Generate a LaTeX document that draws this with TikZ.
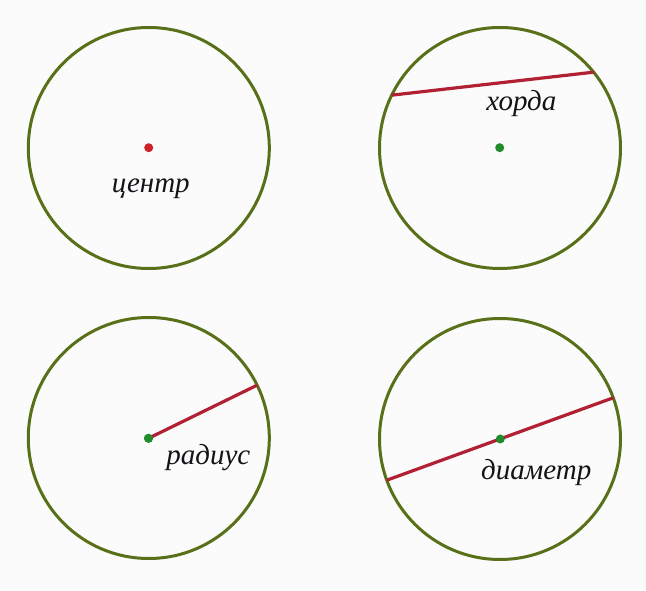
\documentclass[tikz,border=0pt]{standalone}
\usepackage{fontspec}
\setmainfont{Liberation Serif}
\definecolor{ring}{RGB}{88,112,24}
\definecolor{segred}{RGB}{178,32,52}
\definecolor{dotred}{RGB}{210,32,40}
\definecolor{dotgreen}{RGB}{34,140,44}
\definecolor{bg}{RGB}{251,251,251}
\definecolor{ink}{RGB}{20,20,24}
\tikzset{
  ringc/.style={circle,draw=ring,line width=3pt,minimum size=241pt,inner sep=0pt,outer sep=0pt},
  seg/.style={draw=segred,line width=3.2pt},
  cdot/.style={circle,fill=#1,minimum size=9pt,inner sep=0pt},
  lab/.style={font=\fontsize{29}{31}\selectfont\itshape,text=ink,inner sep=0pt,anchor=base}
}
\begin{document}
\begin{tikzpicture}[x=1pt,y=1pt]
\fill[bg] (0,0) rectangle (646,590);
\useasboundingbox (0,0) rectangle (646,590);
% top left: centre
\node[ringc] (c1) at (148.8,442) {};
\node[cdot=dotred] (d1) at (148.7,442.3) {};
\node[lab] (t1) at (150.8,397.3) {центр};
% top right: chord
\node[ringc] (c2) at (500,442) {};
\draw[seg] (c2.154.3) -- (c2.39.8);
\node[cdot=dotgreen] (d2) at (499.7,442.3) {};
\node[lab] (t2) at (521.3,479) {хорда};
% bottom left: radius
\node[ringc] (c3) at (148.8,152) {};
\node[cdot=dotgreen] (d3) at (148.5,151.7) {};
\draw[seg] (d3.center) -- (c3.26.5);
\node[cdot=dotgreen] at (d3) {};
\node[lab] (t3) at (208.3,125) {радиус};
% bottom right: diameter
\node[ringc] (c4) at (500,151) {};
\draw[seg] (c4.200.6) -- (c4.20.6);
\node[cdot=dotgreen] (d4) at (500.3,151) {};
\node[lab] (t4) at (536.3,110.7) {диаметр};
\end{tikzpicture}
\end{document}
